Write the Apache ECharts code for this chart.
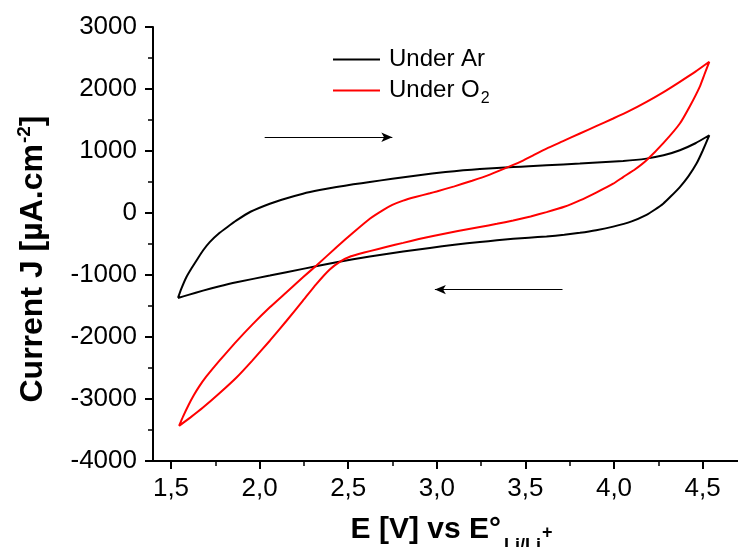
<!DOCTYPE html>
<html>
<head>
<meta charset="utf-8">
<script src="https://cdn.jsdelivr.net/npm/echarts@6/dist/echarts.min.js"></script>
<style>
html,body{margin:0;padding:0;background:#fff;}
#chart{width:738px;height:547px;}
</style>
</head>
<body>
<div id="chart"></div>
<script>
// ---- Data (E in V vs Li/Li+, J in µA.cm-2) ----
// Under Ar: forward (anodic) scan, low -> high E
var arForwardE = [1.541, 1.56, 1.588, 1.62, 1.65, 1.682, 1.72, 1.776, 1.82, 1.871, 1.95, 2.059, 2.15, 2.246, 2.34, 2.435, 2.53, 2.623, 2.75, 2.9, 3.05, 3.15, 3.244, 3.34, 3.432, 3.52, 3.62, 3.808, 4.052, 4.184, 4.28, 4.372, 4.46, 4.538];
var arForwardJ = [-1370, -1220, -1036, -880, -745, -605, -470, -320, -225, -120, 20, 150, 235, 312, 370, 419, 462, 500, 552, 610, 660, 688, 708, 725, 740, 754, 770, 797, 839, 877, 930, 1012, 1125, 1254];
// Under Ar: reverse (cathodic) scan, high -> low E
var arReverseE = [4.5, 4.466, 4.42, 4.372, 4.32, 4.278, 4.23, 4.184, 4.1, 3.996, 3.9, 3.808, 3.72, 3.62, 3.52, 3.432, 3.34, 3.244, 3.1, 2.962, 2.811, 2.623, 2.435, 2.246, 2.059, 1.871, 1.77, 1.682, 1.6, 1.541];
var arReverseJ = [1000, 797, 590, 418, 265, 150, 52, -30, -135, -220, -278, -320, -352, -378, -398, -416, -440, -468, -512, -563, -620, -702, -794, -901, -1009, -1117, -1185, -1252, -1320, -1370];
// Under O2: forward scan
var o2ForwardE = [1.547, 1.57, 1.6, 1.63, 1.66, 1.7, 1.75, 1.8, 1.871, 1.96, 2.059, 2.15, 2.246, 2.322, 2.435, 2.53, 2.623, 2.7, 2.75, 2.811, 2.88, 2.962, 3.0, 3.1, 3.2, 3.3, 3.432, 3.49, 3.545, 3.62, 3.71, 3.808, 3.9, 3.996, 4.09, 4.184, 4.28, 4.372, 4.46, 4.538];
var o2ForwardJ = [-3434, -3280, -3100, -2940, -2800, -2640, -2465, -2300, -2070, -1800, -1521, -1285, -1036, -847, -552, -315, -93, 50, 130, 200, 258, 318, 348, 430, 520, 620, 775, 850, 931, 1039, 1155, 1282, 1400, 1524, 1650, 1792, 1950, 2116, 2280, 2439];
// Under O2: reverse scan
var o2ReverseE = [4.51, 4.484, 4.43, 4.372, 4.28, 4.184, 4.12, 4.052, 3.996, 3.9, 3.808, 3.72, 3.62, 3.53, 3.432, 3.34, 3.244, 3.12, 2.98, 2.9, 2.811, 2.72, 2.623, 2.56, 2.51, 2.46, 2.397, 2.32, 2.246, 2.15, 2.059, 1.96, 1.871, 1.77, 1.682, 1.61, 1.547];
var o2ReverseJ = [2230, 2035, 1730, 1443, 1130, 850, 705, 580, 473, 330, 203, 100, 14, -55, -120, -175, -225, -290, -370, -420, -482, -545, -615, -662, -705, -775, -910, -1150, -1413, -1750, -2060, -2380, -2653, -2920, -3138, -3300, -3434];

var seriesNames = ['Under Ar', 'Under O2'];
var xTicks = {min: 1.5, max: 4.5, step: 0.5};
var yTicks = {min: -4000, max: 3000, step: 1000};
// scan direction arrows [E, J] start -> end
var arrowForward = [[2.03, 1222], [2.75, 1222]];
var arrowReverse = [[3.71, -1235], [2.99, -1235]];

function loop(fE, fJ, rE, rJ) {
  var d = [];
  for (var i = 0; i < fE.length; i++) d.push([fE[i], fJ[i]]);
  for (var k = 0; k < rE.length; k++) d.push([rE[k], rJ[k]]);
  return d;
}

var FONT = "'Liberation Sans', Arial, sans-serif";
var chart = echarts.init(document.getElementById('chart'), null, {renderer: 'canvas'});

var option = {
  animation: false,
  backgroundColor: '#ffffff',
  textStyle: {fontFamily: FONT},
  grid: [
    {left: 153, right: 0, top: 27, bottom: 86, containLabel: false, outerBoundsMode: 'none'},
    {left: 171, right: 35.4, top: 27, bottom: 86, containLabel: false, outerBoundsMode: 'none'}
  ],
  legend: {
    orient: 'vertical',
    left: 333,
    top: 44,
    padding: 0,
    itemWidth: 47,
    itemHeight: 2,
    itemGap: 0,
    icon: 'rect',
    data: seriesNames,
    textStyle: {
      fontFamily: FONT, fontSize: 24, color: '#000', lineHeight: 31,
      rich: {
        t: {fontFamily: FONT, fontSize: 24, color: '#000', padding: [0, 0, 0, 4], lineHeight: 31},
        s: {fontFamily: FONT, fontSize: 16, color: '#000', padding: [16, 0, 0, 1], lineHeight: 16, verticalAlign: 'top'}
      }
    },
    formatter: function (name) {
      if (name === 'Under O2') return '{t|Under O}{s|2}';
      return '{t|' + name + '}';
    }
  },
  xAxis: [
    {
      type: 'value', gridIndex: 0, min: 1.4, max: 4.7,
      axisLine: {show: true, onZero: false, lineStyle: {color: '#000', width: 2}},
      axisTick: {show: false}, axisLabel: {show: false}, splitLine: {show: false},
      name: '{m|E [V] vs E°}{sub|Li/Li}{sup|+}',
      nameLocation: 'middle',
      nameGap: 54,
      nameTextStyle: {
        padding: [0, 0, 0, 12],
        rich: {
          m: {fontFamily: FONT, fontSize: 30, fontWeight: 'bold', color: '#000', lineHeight: 34, verticalAlign: 'top'},
          sub: {fontFamily: FONT, fontSize: 18, fontWeight: 'bold', color: '#000', lineHeight: 18, padding: [22, 0, 0, 3], verticalAlign: 'top'},
          sup: {fontFamily: FONT, fontSize: 18, fontWeight: 'bold', color: '#000', lineHeight: 18, padding: [9, 0, 0, 1], verticalAlign: 'top'}
        }
      }
    },
    {
      type: 'value', gridIndex: 1, min: xTicks.min, max: xTicks.max, interval: xTicks.step,
      axisLine: {show: false, onZero: false},
      axisTick: {show: true, length: 8, lineStyle: {color: '#000', width: 2}},
      minorTick: {show: true, splitNumber: 2, length: 5, lineStyle: {color: '#000', width: 1.5}},
      axisLabel: {
        show: true, margin: 15, color: '#000', fontFamily: FONT, fontSize: 26,
        formatter: function (v) { return v.toFixed(1).replace('.', ','); }
      },
      splitLine: {show: false}
    }
  ],
  yAxis: [
    {
      type: 'value', gridIndex: 0, min: yTicks.min, max: yTicks.max, interval: yTicks.step,
      axisLine: {show: true, onZero: false, lineStyle: {color: '#000', width: 2}},
      axisTick: {show: true, length: 8, lineStyle: {color: '#000', width: 2}},
      minorTick: {show: true, splitNumber: 2, length: 5, lineStyle: {color: '#000', width: 1.5}},
      axisLabel: {
        show: true, margin: 16, color: '#000', fontFamily: FONT, fontSize: 26,
        formatter: function (v) { return String(v); }
      },
      splitLine: {show: false},
      name: '{m|Current J [µA.cm}{sup|-2}{m|]}',
      nameLocation: 'middle',
      nameGap: 106,
      nameTextStyle: {
        padding: [0, 30, 0, 0],
        rich: {
          m: {fontFamily: FONT, fontSize: 32, fontWeight: 'bold', color: '#000', lineHeight: 36, padding: [6, 0, 0, 0], verticalAlign: 'top'},
          sup: {fontFamily: FONT, fontSize: 19, fontWeight: 'bold', color: '#000', lineHeight: 19, padding: [4, 0, 0, 1], verticalAlign: 'top'}
        }
      }
    },
    {
      type: 'value', gridIndex: 1, min: yTicks.min, max: yTicks.max, show: false,
      splitLine: {show: false}
    }
  ],
  series: [
    {
      name: 'Under Ar', type: 'line', xAxisIndex: 0, yAxisIndex: 0,
      data: loop(arForwardE, arForwardJ, arReverseE, arReverseJ),
      showSymbol: false, smooth: 0.15, clip: false,
      lineStyle: {color: '#000000', width: 2},
      itemStyle: {color: '#000000'},
      markLine: {
        silent: true, animation: false,
        symbol: ['none', 'arrow'], symbolSize: [7, 11],
        label: {show: false},
        lineStyle: {color: '#000', width: 1.2, type: 'solid'},
        data: [
          [{coord: arrowForward[0]}, {coord: arrowForward[1]}],
          [{coord: arrowReverse[0]}, {coord: arrowReverse[1]}]
        ]
      }
    },
    {
      name: 'Under O2', type: 'line', xAxisIndex: 0, yAxisIndex: 0,
      data: loop(o2ForwardE, o2ForwardJ, o2ReverseE, o2ReverseJ),
      showSymbol: false, smooth: 0.15, clip: false,
      lineStyle: {color: '#ff0000', width: 2},
      itemStyle: {color: '#ff0000'}
    }
  ]
};
chart.setOption(option);
</script>
</body>
</html>
